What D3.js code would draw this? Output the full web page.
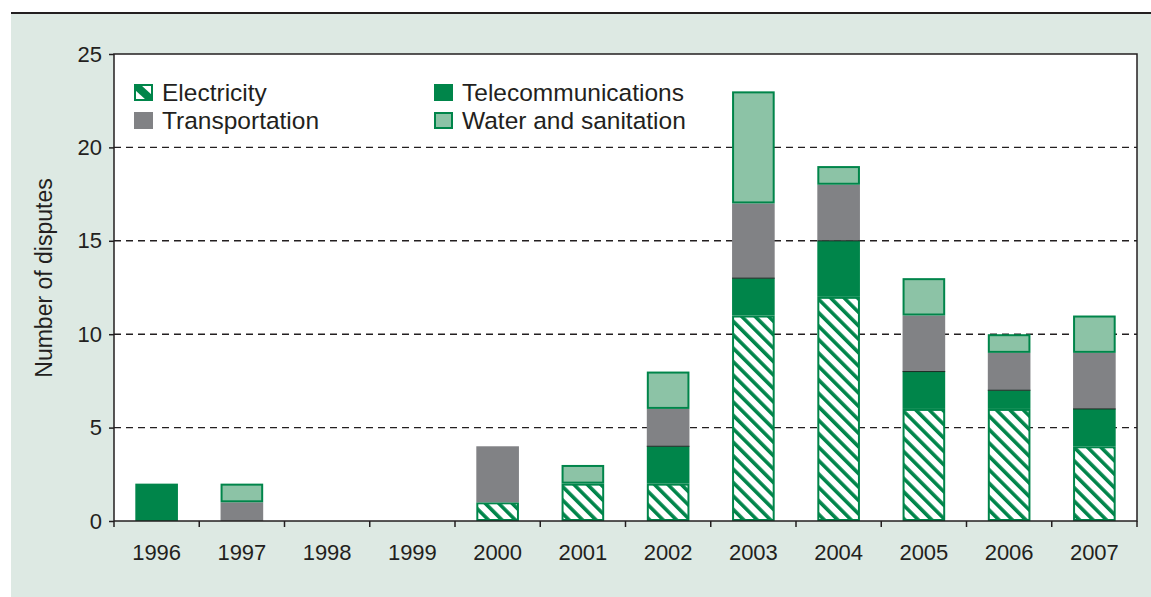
<!DOCTYPE html>
<html>
<head>
<meta charset="utf-8">
<script src="https://cdn.jsdelivr.net/npm/d3@7"></script>
<style>
  body { margin: 0; background: #fff; }
  svg text { font-family: "Liberation Sans", Arial, sans-serif; fill: #231f20; }
</style>
</head>
<body>
<div id="chart"></div>
<script>
// chart values
var years = ["1996", "1997", "1998", "1999", "2000", "2001", "2002", "2003", "2004", "2005", "2006", "2007"];
var electricity = [0, 0, 0, 0, 1, 2, 2, 11, 12, 6, 6, 4];
var telecom = [2, 0, 0, 0, 0, 0, 2, 2, 3, 2, 1, 2];
var transport = [0, 1, 0, 0, 3, 0, 2, 4, 3, 3, 2, 3];
var water = [0, 1, 0, 0, 0, 1, 2, 6, 1, 2, 1, 2];
var yTicks = [0, 5, 10, 15, 20, 25];
var seriesNames = ["Electricity", "Telecommunications", "Transportation", "Water and sanitation"];

var green = "#00854a", grey = "#818285", lightGreen = "#8cc3a6";

var W = 1151, H = 597;
var margin = {top: 54, right: 14, bottom: 76, left: 114};
var width = W - margin.left - margin.right,
    height = H - margin.top - margin.bottom;

var svg = d3.select("#chart").append("svg")
    .attr("width", W).attr("height", H);

var defs = svg.append("defs");
// hatch for electricity bars
defs.append("pattern")
    .attr("id", "hatch")
    .attr("patternUnits", "userSpaceOnUse")
    .attr("width", 9.5).attr("height", 9.5)
    .attr("patternTransform", "rotate(-45)")
  .call(function(p) {
    p.append("rect").attr("width", 9.5).attr("height", 9.5).attr("fill", "#fff");
    p.append("rect").attr("width", 3.6).attr("height", 9.5).attr("fill", green);
  });
// legend swatch: single diagonal band
defs.append("pattern")
    .attr("id", "legHatch")
    .attr("patternUnits", "objectBoundingBox")
    .attr("width", 1).attr("height", 1)
  .call(function(p) {
    p.append("rect").attr("width", 17).attr("height", 15).attr("fill", "#fff");
    p.append("polygon").attr("points", "0,0 6,0 17,10 17,15 11,15 0,5").attr("fill", green);
  });

// panel background + top rule
svg.append("rect").attr("x", 11).attr("y", 14).attr("width", W - 11).attr("height", H - 14)
    .attr("fill", "#dde9e3");
svg.append("line").attr("x1", 11).attr("x2", W).attr("y1", 13).attr("y2", 13)
    .attr("stroke", "#231f20").attr("stroke-width", 2);

var g = svg.append("g").attr("transform", "translate(" + margin.left + "," + margin.top + ")");

var x = d3.scaleBand().domain(years).range([0, width]).paddingInner(0.5).paddingOuter(0.25);
var xEdges = d3.scaleLinear().domain([0, years.length]).range([0, width]);
var y = d3.scaleLinear().domain([0, 25]).range([height, 0]);

g.append("rect").attr("width", width).attr("height", height).attr("fill", "#fff");

// gridlines
g.selectAll(".grid").data(yTicks.filter(function(d) { return d > 0 && d < 25; }))
  .enter().append("line")
    .attr("x1", 0).attr("x2", width)
    .attr("y1", function(d) { return y(d); }).attr("y2", function(d) { return y(d); })
    .attr("stroke", "#231f20").attr("stroke-width", 1.4).attr("stroke-dasharray", "7,5");

// stacks
var rows = years.map(function(yr, i) {
  return {year: yr, Electricity: electricity[i], Telecommunications: telecom[i],
          Transportation: transport[i], "Water and sanitation": water[i]};
});
var stack = d3.stack().keys(seriesNames)(rows);
var fills = {
  "Electricity": "url(#hatch)",
  "Telecommunications": green,
  "Transportation": grey,
  "Water and sanitation": lightGreen
};

stack.forEach(function(layer) {
  var key = layer.key;
  var outlined = key === "Electricity" || key === "Water and sanitation";
  g.selectAll(null).data(layer.filter(function(d) { return d[1] > d[0]; }))
    .enter().append("rect")
      .attr("x", function(d) { return x(d.data.year) + (outlined ? 1 : 0); })
      .attr("width", x.bandwidth() - (outlined ? 2 : 0))
      .attr("y", function(d) { return y(d[1]) + (outlined ? 1 : 0); })
      .attr("height", function(d) { return y(d[0]) - y(d[1]) - (outlined ? 2 : 0); })
      .attr("fill", fills[key])
      .attr("stroke", outlined ? green : "none")
      .attr("stroke-width", outlined ? 2 : 0);
});

// dark seam on top of telecom segments that have something above
var telLayer = stack[1];
g.selectAll(".seam").data(telLayer.filter(function(d, i) {
    return d[1] > d[0] && (transport[i] + water[i]) > 0; }))
  .enter().append("line")
    .attr("x1", function(d) { return x(d.data.year); })
    .attr("x2", function(d) { return x(d.data.year) + x.bandwidth(); })
    .attr("y1", function(d) { return y(d[1]); }).attr("y2", function(d) { return y(d[1]); })
    .attr("stroke", "#1a2a22").attr("stroke-width", 1);

// frame
g.append("rect").attr("width", width).attr("height", height)
    .attr("fill", "none").attr("stroke", "#231f20").attr("stroke-width", 1.5);

// y axis
var yAxis = g.append("g")
    .call(d3.axisLeft(y).tickValues(yTicks).tickSize(5).tickPadding(7));
yAxis.select(".domain").remove();
yAxis.selectAll("line").attr("stroke", "#231f20").attr("stroke-width", 1.5);
yAxis.selectAll("text").style("font-size", "22px").attr("fill", "#231f20");

// x axis: ticks on category boundaries, labels centred
var xAxis = g.append("g").attr("transform", "translate(0," + height + ")");
xAxis.selectAll("line").data(d3.range(0, years.length + 1))
  .enter().append("line")
    .attr("x1", function(d) { return xEdges(d); }).attr("x2", function(d) { return xEdges(d); })
    .attr("y1", 0).attr("y2", 6)
    .attr("stroke", "#231f20").attr("stroke-width", 1.5);
xAxis.selectAll("text").data(years)
  .enter().append("text")
    .attr("x", function(d) { return x(d) + x.bandwidth() / 2; })
    .attr("y", 39)
    .attr("text-anchor", "middle")
    .style("font-size", "22px")
    .text(function(d) { return d; });

// y label
svg.append("text")
    .attr("transform", "translate(52,278) rotate(-90)")
    .attr("text-anchor", "middle")
    .style("font-size", "23px")
    .text("Number of disputes");

// legend
var legendPos = [
  {name: "Electricity", x: 134, y: 84},
  {name: "Telecommunications", x: 434, y: 84},
  {name: "Transportation", x: 134, y: 112},
  {name: "Water and sanitation", x: 434, y: 112}
];
function isOutlined(n) { return n === "Electricity" || n === "Water and sanitation"; }
var lg = svg.append("g").selectAll("g").data(legendPos).enter().append("g")
    .attr("transform", function(d) { return "translate(" + d.x + "," + d.y + ")"; });
lg.append("rect")
    .attr("x", function(d) { return isOutlined(d.name) ? 1 : 0; })
    .attr("y", function(d) { return isOutlined(d.name) ? 1 : 0; })
    .attr("width", function(d) { return isOutlined(d.name) ? 17 : 19; })
    .attr("height", function(d) { return isOutlined(d.name) ? 15 : 17; })
    .attr("fill", function(d) { return d.name === "Electricity" ? "url(#legHatch)" : fills[d.name]; })
    .attr("stroke", function(d) { return isOutlined(d.name) ? green : "none"; })
    .attr("stroke-width", 2);
lg.append("text")
    .attr("x", 28).attr("y", 17)
    .style("font-size", "24.5px")
    .text(function(d) { return d.name; });
</script>
</body>
</html>
